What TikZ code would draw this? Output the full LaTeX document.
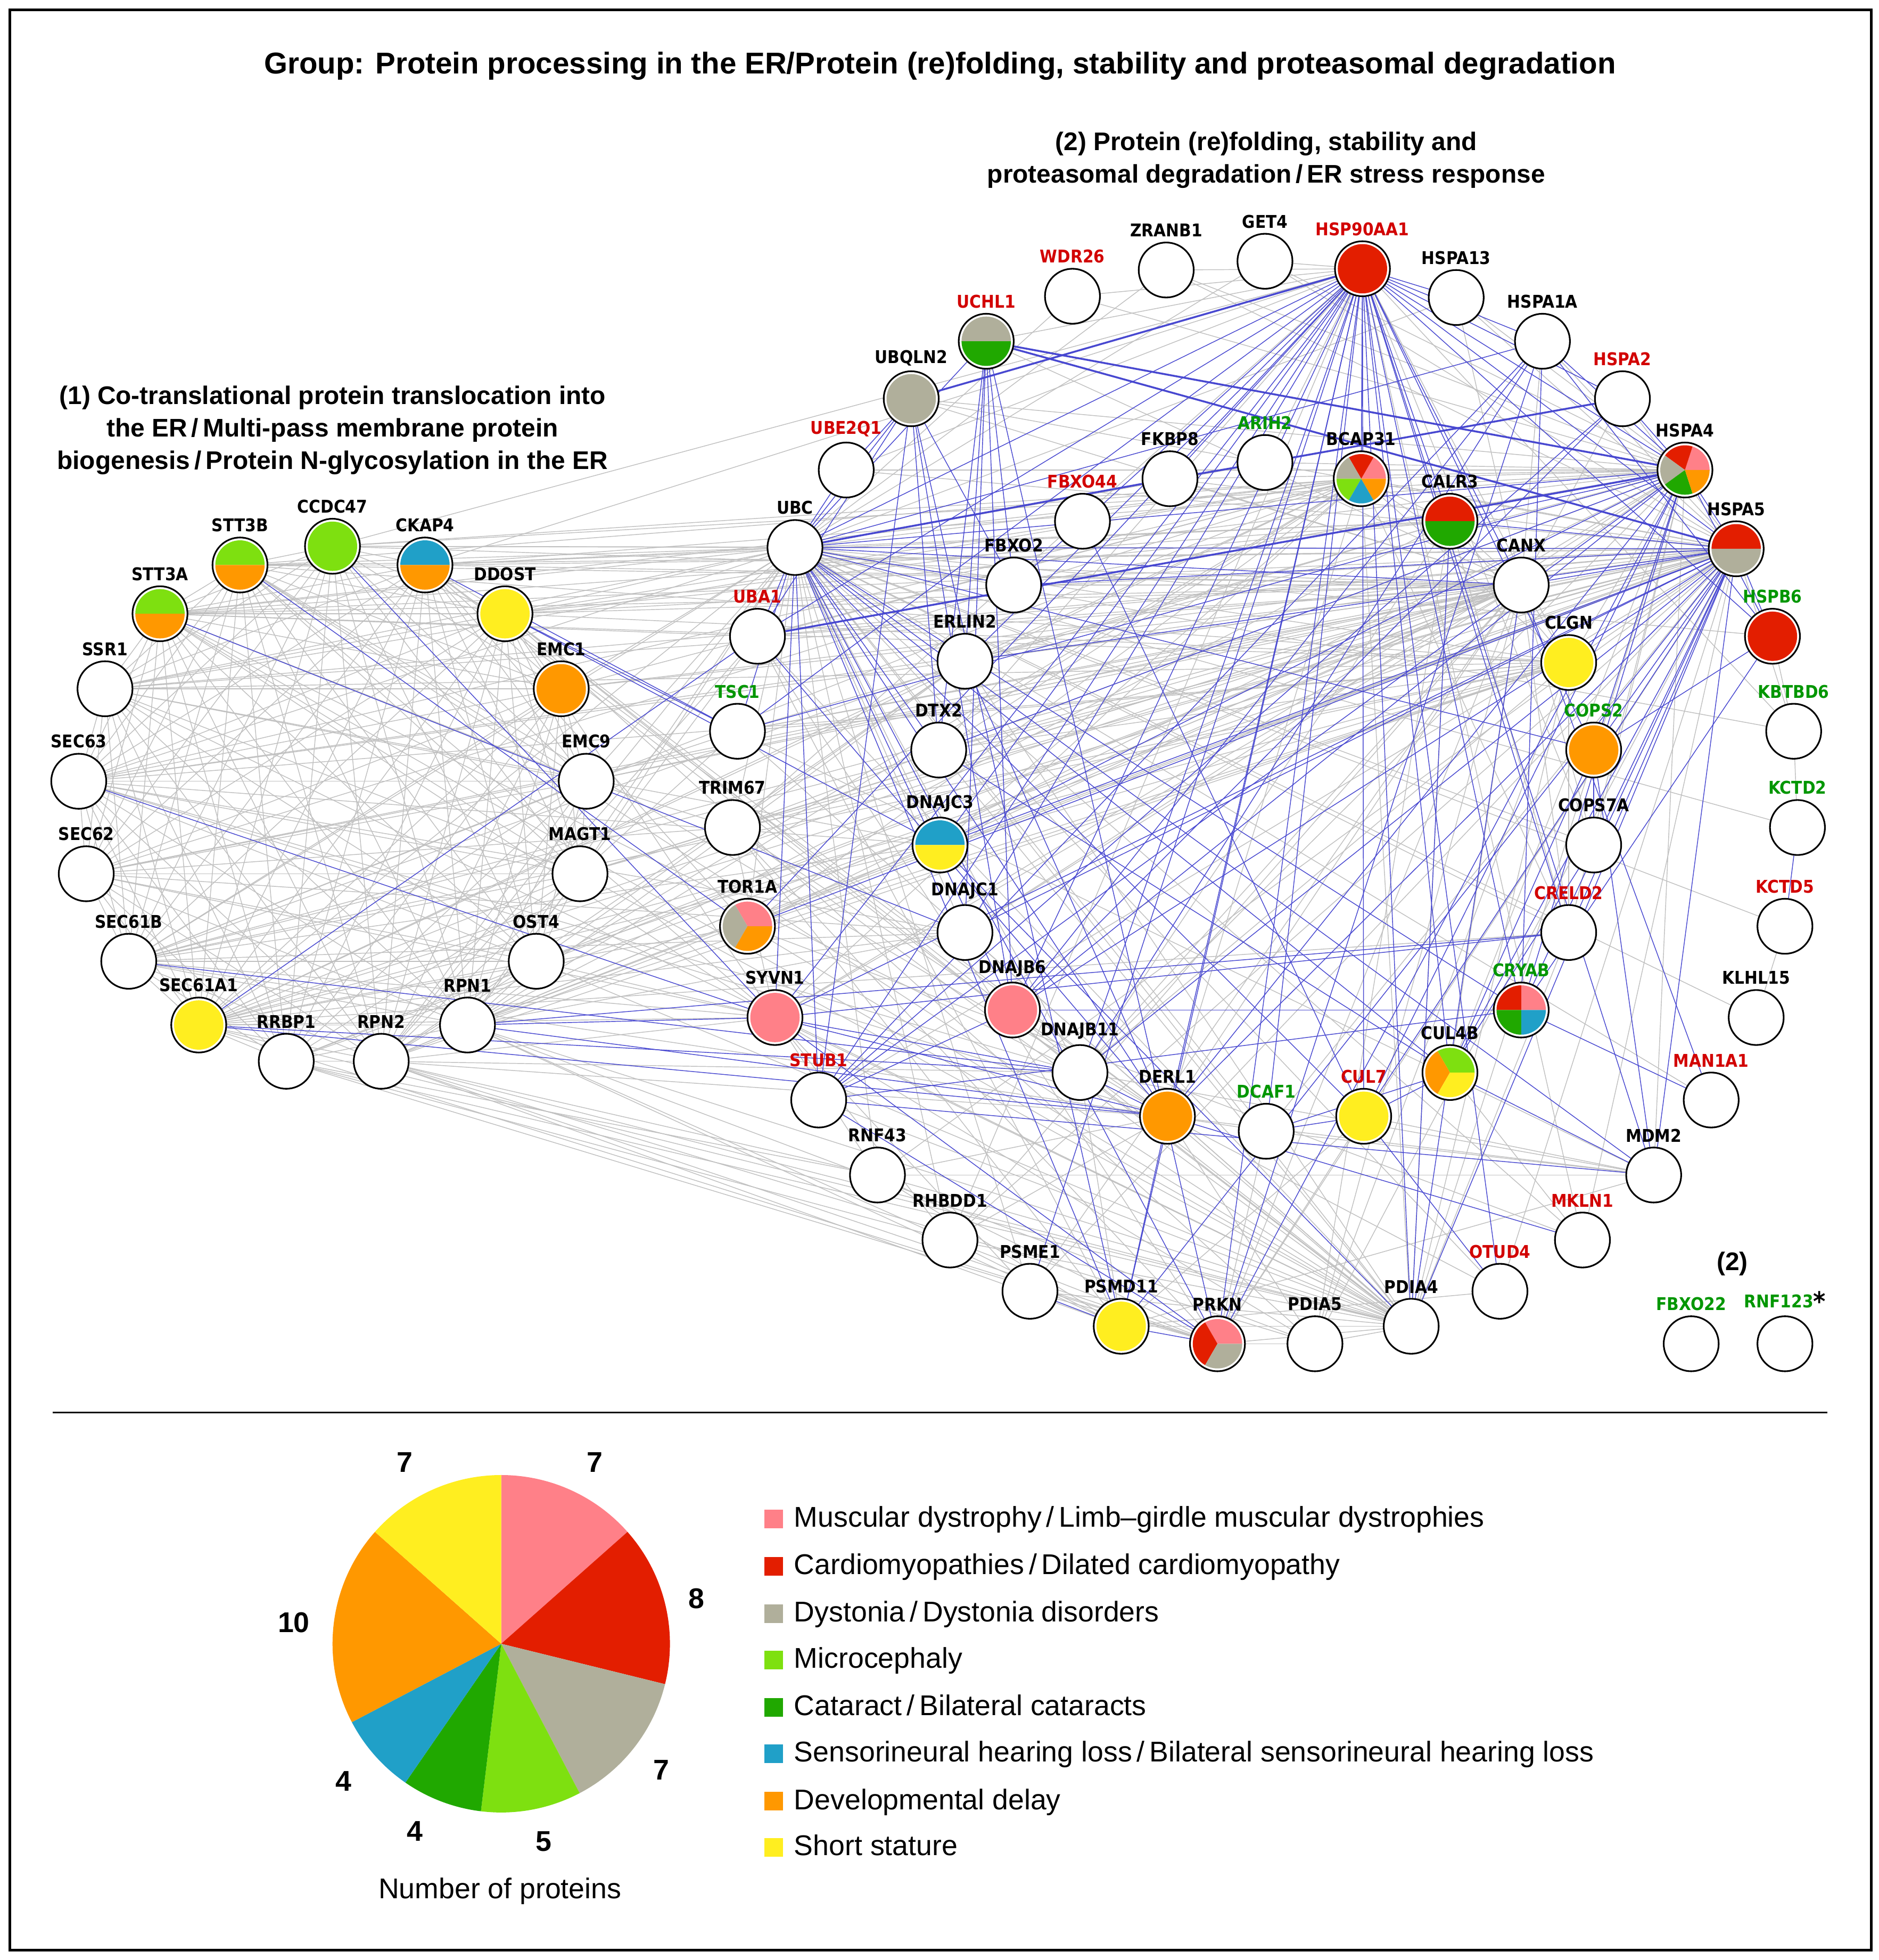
\documentclass[tikz,border=0pt]{standalone}
\usepackage{fontspec}
\setmainfont{Liberation Sans}
\newfontfamily\lblfont[FakeStretch=0.9]{DejaVu Sans}
\pgfdeclarelayer{edgelayer}
\pgfsetlayers{edgelayer,main}
\definecolor{cPink}{RGB}{255,128,136}
\definecolor{cRed}{RGB}{227,30,0}
\definecolor{cGray}{RGB}{176,175,155}
\definecolor{cLime}{RGB}{126,224,16}
\definecolor{cGreen}{RGB}{32,168,0}
\definecolor{cBlue}{RGB}{32,160,200}
\definecolor{cOrange}{RGB}{255,152,0}
\definecolor{cYellow}{RGB}{255,238,32}
\definecolor{lblRed}{RGB}{210,0,0}
\definecolor{lblGreen}{RGB}{0,150,0}
\definecolor{edgeGray}{RGB}{192,192,192}
\definecolor{edgeBlue}{RGB}{72,72,208}
\tikzset{
 prot/.style={circle, draw=black, line width=0.75pt, fill=white, minimum size=0.88cm, inner sep=0pt},
 plabel/.style={font=\lblfont\bfseries\fontsize{8}{9}\selectfont, inner sep=0pt},
 gedge/.style={draw=edgeGray, line width=0.35pt},
 bedge/.style={draw=edgeBlue, line width=0.35pt},
 bthick/.style={draw=edgeBlue, line width=0.85pt},
 legsq/.style={draw=none, minimum size=0.3cm, inner sep=0pt},
 legtxt/.style={anchor=base west, inner sep=0pt, font=\fontsize{13}{15}\selectfont},
 pienum/.style={font=\bfseries\fontsize{13}{15}\selectfont, inner sep=0pt},
 cluster/.style={font=\bfseries\fontsize{11.6}{14.8}\selectfont, align=center, inner sep=0pt},
}
\newcommand\prot[4]{\node[prot, label={[plabel, text=#4]above:#1}] (#1) at (#2,#3) {};}
\newcommand\piefill[2]{%
  \foreach \c [count=\k] in {#2} {\xdef\npie{\k}}%
  \foreach \c [count=\k from 0] in {#2} {%
    \pgfmathsetmacro\sa{\k*360/\npie}%
    \pgfmathsetmacro\ea{(\k+1)*360/\npie}%
    \fill[\c] (#1.center) -- ++(\sa:0.395cm) arc[start angle=\sa, end angle=\ea, radius=0.395cm] -- cycle;
  }%
}
\begin{document}
\begin{tikzpicture}[x=0.02cm, y=-0.02cm, label distance=0.07cm]
\useasboundingbox (0,0) rectangle (1503,1568);
\draw[line width=1.2pt] (8,8) rectangle (1497,1560);

\node[font=\bfseries\fontsize{13.7}{16}\selectfont, inner sep=0pt] (title) at (752,53) {Group: Protein processing in the ER/Protein (re)folding, stability and proteasomal degradation};
\node[cluster] (cl2) at (1013,128) {(2) Protein (re)folding, stability and\\proteasomal degradation\,/\,ER stress response};
\node[cluster] (cl1) at (266,344) {(1) Co-translational protein translocation into\\the ER\,/\,Multi-pass membrane protein\\biogenesis\,/\,Protein N-glycosylation in the ER};
\node[cluster] (cl2b) at (1386,1011) {(2)};

% right ring
\prot{WDR26}{858}{237}{lblRed}
\prot{ZRANB1}{933}{216}{black}
\prot{GET4}{1012}{209}{black}
\prot{HSP90AA1}{1090}{215}{lblRed}
\prot{HSPA13}{1165}{238}{black}
\prot{HSPA1A}{1234}{273}{black}
\prot{HSPA2}{1298}{319}{lblRed}
\prot{HSPA4}{1348}{376}{black}
\prot{HSPA5}{1389}{439}{black}
\prot{HSPB6}{1418}{509}{lblGreen}
\prot{KBTBD6}{1435}{585}{lblGreen}
\prot{KCTD2}{1438}{662}{lblGreen}
\prot{KCTD5}{1428}{741}{lblRed}
\prot{KLHL15}{1405}{814}{black}
\prot{MAN1A1}{1369}{880}{lblRed}
\prot{MDM2}{1323}{940}{black}
\prot{MKLN1}{1266}{992}{lblRed}
\prot{OTUD4}{1200}{1033}{lblRed}
\prot{PDIA4}{1129}{1061}{black}
\prot{PDIA5}{1052}{1075}{black}
\prot{PRKN}{974}{1075}{black}
\prot{PSMD11}{897}{1061}{black}
\prot{PSME1}{824}{1033}{black}
\prot{RHBDD1}{760}{992}{black}
\prot{RNF43}{702}{940}{black}
\prot{STUB1}{655}{880}{lblRed}
\prot{SYVN1}{620}{814}{black}
\prot{TOR1A}{598}{741}{black}
\prot{TRIM67}{586}{662}{black}
\prot{TSC1}{590}{585}{lblGreen}
\prot{UBA1}{606}{509}{lblRed}
\prot{UBC}{636}{438}{black}
\prot{UBE2Q1}{677}{376}{lblRed}
\prot{UBQLN2}{729}{319}{black}
\prot{UCHL1}{789}{273}{lblRed}
% inner
\prot{FKBP8}{936}{383}{black}
\prot{ARIH2}{1012}{370}{lblGreen}
\prot{BCAP31}{1089}{383}{black}
\prot{FBXO44}{866}{417}{lblRed}
\prot{CALR3}{1160}{417}{black}
\prot{FBXO2}{811}{468}{black}
\prot{CANX}{1217}{468}{black}
\prot{ERLIN2}{772}{529}{black}
\prot{CLGN}{1255}{530}{black}
\prot{DTX2}{751}{600}{black}
\prot{COPS2}{1275}{600}{lblGreen}
\prot{DNAJC3}{752}{676}{black}
\prot{COPS7A}{1275}{676}{black}
\prot{DNAJC1}{772}{746}{black}
\prot{CRELD2}{1255}{746}{lblRed}
\prot{DNAJB6}{810}{808}{black}
\prot{CRYAB}{1217}{808}{lblGreen}
\prot{DNAJB11}{864}{858}{black}
\prot{CUL4B}{1160}{858}{black}
\prot{DERL1}{934}{893}{black}
\prot{DCAF1}{1013}{905}{lblGreen}
\prot{CUL7}{1091}{893}{lblRed}
% left cluster
\prot{STT3B}{192}{452}{black}
\prot{CCDC47}{266}{437}{black}
\prot{CKAP4}{340}{452}{black}
\prot{STT3A}{128}{491}{black}
\prot{DDOST}{404}{491}{black}
\prot{SSR1}{84}{551}{black}
\prot{EMC1}{449}{551}{black}
\prot{SEC63}{63}{625}{black}
\prot{EMC9}{469}{625}{black}
\prot{SEC62}{69}{699}{black}
\prot{MAGT1}{464}{699}{black}
\prot{SEC61B}{103}{769}{black}
\prot{OST4}{429}{769}{black}
\prot{SEC61A1}{159}{820}{black}
\prot{RPN1}{374}{820}{black}
\prot{RRBP1}{229}{849}{black}
\prot{RPN2}{305}{849}{black}
% isolated
\prot{FBXO22}{1353}{1075}{lblGreen}
\node[prot, label={[plabel, text=lblGreen]above:RNF123\textcolor{black}{\raisebox{-0.3ex}{\fontsize{12}{12}\selectfont*}}}] (RNF123) at (1428,1075) {};

\begin{pgfonlayer}{edgelayer}
% left cluster mesh
\foreach \a [count=\i] in {STT3A,STT3B,CCDC47,CKAP4,DDOST,EMC1,EMC9,MAGT1,OST4,RPN1,RPN2,RRBP1,SEC61A1,SEC61B,SEC62,SEC63,SSR1}{
  \foreach \b [count=\j] in {STT3A,STT3B,CCDC47,CKAP4,DDOST,EMC1,EMC9,MAGT1,OST4,RPN1,RPN2,RRBP1,SEC61A1,SEC61B,SEC62,SEC63,SSR1}{
    \ifnum\j>\i \draw[gedge] (\a) -- (\b); \fi
  }
}
% left to right gray
\foreach \b in {STT3A,STT3B,CCDC47,CKAP4,DDOST,EMC1,EMC9,MAGT1,OST4,RPN1,RPN2,RRBP1,SEC61A1,SEC61B,SEC62,SEC63,SSR1}{
  \draw[gedge] (\b) -- (HSPA5); \draw[gedge] (\b) -- (CANX);}
\foreach \b in {STT3A,STT3B,SEC61A1,SEC61B,SEC63,SEC62,SSR1,DDOST,RPN1,RPN2,CCDC47,EMC1} \draw[gedge] (\b) -- (BCAP31);
\foreach \b in {RPN1,RPN2,RRBP1,SEC61A1,DDOST,STT3A,STT3B,OST4,MAGT1,SSR1,CKAP4} \draw[gedge] (\b) -- (PDIA4);
\foreach \b in {STT3A,STT3B,CCDC47,CKAP4,DDOST,SEC61A1,SEC61B,SEC63,RPN1,RPN2,SSR1,EMC1,EMC9,MAGT1} \draw[gedge] (\b) -- (UBC);
\foreach \b in {SEC61A1,SEC61B,SEC63,SSR1,DDOST,RPN1,RPN2,STT3A,STT3B} \draw[gedge] (\b) -- (CLGN);
\foreach \b in {SEC63,RPN2,DDOST,STT3A} \draw[gedge] (\b) -- (DNAJB11);
\foreach \b in {SEC61A1,SEC63,SEC61B,SSR1,RPN1} \draw[gedge] (\b) -- (DNAJC3);
\foreach \b in {SEC61A1,SEC61B,SEC63,SEC62,RPN1} \draw[gedge] (\b) -- (DNAJC1);
\foreach \b in {SEC61A1,SEC61B,RPN1,RPN2,OST4} \draw[gedge] (\b) -- (ERLIN2);
\foreach \b in {SEC61A1,SEC61B,SEC62,RPN2,DDOST,STT3A,STT3B,OST4} \draw[gedge] (\b) -- (SYVN1);
\foreach \b in {SEC61B,SEC63,RPN2,DDOST,STT3B,CKAP4} \draw[gedge] (\b) -- (DERL1);
\foreach \b in {DDOST,RPN1,STT3A,CKAP4} \draw[gedge] (\b) -- (CALR3);
\foreach \b in {CKAP4,CCDC47,DDOST} \draw[gedge] (\b) -- (HSPA4);
\foreach \b in {CKAP4,SEC61A1} \draw[gedge] (\b) -- (TOR1A);
\foreach \b in {RPN1,RPN2,STT3A} \draw[gedge] (\b) -- (UBA1);
\foreach \b in {RPN1,RPN2,DDOST} \draw[gedge] (\b) -- (PDIA5);
\foreach \b in {RPN2,RRBP1,SEC61A1} \draw[gedge] (\b) -- (PRKN);
\foreach \b in {RPN1,RPN2} \draw[gedge] (\b) -- (PSMD11);
\foreach \b in {RRBP1,RPN2} \draw[gedge] (\b) -- (RNF43);
\foreach \b in {RRBP1,RPN1} \draw[gedge] (\b) -- (RHBDD1);
\foreach \b in {MAGT1,EMC9,SEC62} \draw[gedge] (\b) -- (TRIM67);
\foreach \b in {EMC9,MAGT1} \draw[gedge] (\b) -- (TSC1);
\foreach \b in {CKAP4,CCDC47} \draw[gedge] (\b) -- (HSP90AA1);
\draw[gedge] (SEC61A1) -- (CRELD2);
% right cluster gray
\foreach \b in {CALR3,CLGN,PDIA5,DNAJB11,DNAJC3,DNAJC1,CRELD2,ERLIN2,SYVN1,DERL1,UBA1,TOR1A,TRIM67,TSC1,DTX2,FBXO2,FKBP8,BCAP31,HSPA4,HSPA2,HSPA1A,HSPA13,UCHL1,UBQLN2,RHBDD1,PSME1,COPS7A,CUL4B,PRKN} \draw[gedge] (CANX) -- (\b);
\foreach \b in {HSPA13,HSPA1A,HSPA2,CLGN,PDIA5,TRIM67,TSC1,DTX2,FKBP8,BCAP31,RHBDD1,PSME1,RNF43,STUB1,UBQLN2,UBE2Q1,PRKN,OTUD4,MKLN1,KBTBD6,GET4,ZRANB1,UBA1,DCAF1} \draw[gedge] (HSPA5) -- (\b);
\foreach \b in {FKBP8,ARIH2,BCAP31,CLGN,COPS7A,CRELD2,DNAJB11,DNAJC1,TOR1A,SYVN1,UBE2Q1,UBQLN2,GET4,ZRANB1,WDR26,HSPA13,CUL4B,PDIA4,MDM2,ERLIN2,FBXO2,TRIM67} \draw[gedge] (HSPA4) -- (\b);
\foreach \b in {GET4,ZRANB1,WDR26,ARIH2,DTX2,CLGN,COPS7A,KBTBD6,UCHL1,UBE2Q1,TRIM67,RHBDD1,MKLN1} \draw[gedge] (HSP90AA1) -- (\b);
\foreach \b in {CALR3,CLGN,CRELD2,DNAJB11,ERLIN2,PDIA5,PRKN,PSMD11,PSME1,RHBDD1,RNF43,STUB1,SYVN1,TOR1A,UBA1,UBC,DNAJC1,DERL1,BCAP31,TRIM67,TSC1,DTX2} \draw[gedge] (PDIA4) -- (\b);
\foreach \b in {WDR26,ZRANB1,GET4,HSPA13,CALR3,CLGN,COPS7A,CRELD2,DNAJB11,DNAJC1,DNAJC3,PSME1,RHBDD1,RNF43,MKLN1,KBTBD6,KCTD2,KCTD5,KLHL15,MAN1A1,HSPB6,TOR1A,ARIH2,HSPA2,BCAP31,OTUD4,DCAF1,ERLIN2,TRIM67} \draw[gedge] (UBC) -- (\b);
\foreach \b in {CALR3,CLGN,DERL1,SYVN1,ERLIN2,DNAJC3,TOR1A,UBA1,DTX2,CRELD2} \draw[gedge] (BCAP31) -- (\b);
\foreach \b in {CLGN,PDIA5,DNAJB11,CRELD2,ERLIN2,TSC1} \draw[gedge] (CALR3) -- (\b);
\foreach \b in {DNAJB11,PDIA5,TOR1A,CRELD2,DNAJC3,TSC1,TRIM67,DTX2} \draw[gedge] (CLGN) -- (\b);
\foreach \b in {PSME1,RHBDD1,RNF43,PDIA5,TRIM67,UBA1,DCAF1,CUL7} \draw[gedge] (PRKN) -- (\b);
\foreach \b in {RNF43,RHBDD1,UBA1,DNAJB11,CUL7,TRIM67} \draw[gedge] (PSMD11) -- (\b);
\foreach \b in {PDIA5,RHBDD1,RNF43,TRIM67,DCAF1} \draw[gedge] (DERL1) -- (\b);
\foreach \b in {PSME1,RHBDD1,RNF43,TRIM67,PDIA5} \draw[gedge] (SYVN1) -- (\b);
\foreach \b in {DNAJB11,DERL1,DCAF1,CUL7,PSMD11,RNF43,TSC1} \draw[gedge] (MDM2) -- (\b);
\foreach \a/\b in {KBTBD6/KCTD2,KCTD5/KLHL15,HSPB6/KBTBD6,MKLN1/CUL4B,MKLN1/TOR1A,OTUD4/PSMD11,OTUD4/DERL1} \draw[gedge] (\a) -- (\b);
% blue edges
\foreach \b in {UBC,FKBP8,BCAP31,CALR3,CANX,HSPA13,HSPA1A,HSPA2,HSPA4,HSPA5,HSPB6,COPS2,CRYAB,CUL4B,CUL7,DCAF1,DERL1,DNAJB11,DNAJB6,DNAJC1,DNAJC3,PRKN,PSMD11,PDIA4,STUB1,TSC1,MDM2,CRELD2,FBXO2,TOR1A,SYVN1,OTUD4,PSME1,UBA1,ERLIN2} \draw[bedge] (HSP90AA1) -- (\b);
\foreach \b in {HSPA5,HSPA2,HSPA1A,STUB1,DNAJB6,CRYAB,UBC,HSPB6,COPS2,CUL7,DERL1,DNAJC3,TSC1,DTX2,PRKN,CALR3} \draw[bedge] (HSPA4) -- (\b);
\foreach \b in {HSPB6,CALR3,CANX,DERL1,SYVN1,DNAJB11,DNAJC3,DNAJC1,CRELD2,COPS2,CRYAB,PDIA4,ERLIN2,UBC,TOR1A,CUL4B,COPS7A,MDM2,FBXO2,DNAJB6,CUL7,PSMD11} \draw[bedge] (HSPA5) -- (\b);
\foreach \b in {UBQLN2,UBE2Q1,UBA1,TSC1,FBXO2,DTX2,STUB1,SYVN1,PRKN,CUL7,DERL1,MDM2,DNAJB6,CRYAB,CANX,UCHL1,HSPA1A,CUL4B,COPS2,PSMD11} \draw[bedge] (UBC) -- (\b);
\foreach \a/\b in {HSPB6/COPS2,HSPB6/CRYAB,HSPB6/HSPA1A,
 UBQLN2/UBE2Q1,UBQLN2/STUB1,UBQLN2/DNAJB6,UBQLN2/PSMD11,UBQLN2/DTX2,UBQLN2/FBXO2,UBQLN2/UBA1,
 UCHL1/FBXO2,UCHL1/DTX2,UCHL1/ERLIN2,UCHL1/DNAJC1,UCHL1/PRKN,UCHL1/DNAJB6,
 HSPA1A/STUB1,HSPA1A/DNAJB6,HSPA1A/PRKN,HSPA1A/CRYAB,HSPA1A/DNAJB11,
 HSPA2/STUB1,HSPA2/DNAJB6,
 STUB1/PRKN,STUB1/DNAJB6,STUB1/CRYAB,STUB1/MDM2,
 CUL7/CUL4B,CUL7/DCAF1,CUL7/OTUD4,CUL7/FBXO44,
 CUL4B/DCAF1,CUL4B/COPS2,CUL4B/COPS7A,CUL4B/MDM2,CUL4B/DTX2,
 DERL1/SYVN1,DERL1/UBA1,DERL1/DNAJB11,DERL1/ERLIN2,DERL1/PSMD11,MKLN1/DERL1,
 SYVN1/DNAJB11,SYVN1/CRELD2,SYVN1/PRKN,
 COPS2/COPS7A,COPS2/MDM2,
 CANX/MAN1A1,CRYAB/MAN1A1,DNAJB6/CRYAB,PDIA4/DNAJC3,PDIA4/CALR3,PDIA4/CANX,
 KCTD2/KCTD5,PSME1/PSMD11,PRKN/PSMD11,
 STT3A/DNAJC1,STT3B/TOR1A,CCDC47/SYVN1,CKAP4/TSC1,DDOST/TSC1,DDOST/DNAJC3,SEC63/SYVN1,
 SEC61A1/UBA1,SEC61B/DNAJB11,SEC61A1/DERL1,SEC61A1/DNAJB11,RPN1/DERL1,RPN1/SYVN1,RPN1/CRELD2} \draw[bedge] (\a) -- (\b);
\foreach \a/\b in {UBQLN2/HSP90AA1,UCHL1/HSPA4,UCHL1/HSPA5,UBC/FKBP8,FKBP8/ARIH2,ARIH2/HSPA2,HSPA4/UBA1} \draw[bthick] (\a) -- (\b);
\end{pgfonlayer}

% pies
\piefill{HSP90AA1}{cRed}
\piefill{UCHL1}{cGray,cGreen}
\piefill{UBQLN2}{cGray}
\piefill{BCAP31}{cPink,cRed,cGray,cLime,cBlue,cOrange}
\piefill{CALR3}{cRed,cGreen}
\piefill{HSPA4}{cPink,cRed,cGray,cGreen,cOrange}
\piefill{HSPA5}{cRed,cGray}
\piefill{HSPB6}{cRed}
\piefill{CLGN}{cYellow}
\piefill{COPS2}{cOrange}
\piefill{DNAJC3}{cBlue,cYellow}
\piefill{TOR1A}{cPink,cGray,cOrange}
\piefill{SYVN1}{cPink}
\piefill{DNAJB6}{cPink}
\piefill{CRYAB}{cPink,cRed,cGreen,cBlue}
\piefill{CUL4B}{cLime,cOrange,cYellow}
\piefill{DERL1}{cOrange}
\piefill{CUL7}{cYellow}
\piefill{PSMD11}{cYellow}
\piefill{PRKN}{cPink,cRed,cGray}
\piefill{STT3B}{cLime,cOrange}
\piefill{CCDC47}{cLime}
\piefill{CKAP4}{cBlue,cOrange}
\piefill{STT3A}{cLime,cOrange}
\piefill{DDOST}{cYellow}
\piefill{EMC1}{cOrange}
\piefill{SEC61A1}{cYellow}

% separator
\draw[line width=0.6pt] (42,1130) -- (1462,1130);

% legend pie
\coordinate (legpie) at (401,1315);
\foreach \c/\s/\e in {cPink/90/41.54,cRed/41.54/-13.85,cGray/-13.85/-62.31,cLime/-62.31/-96.92,cGreen/-96.92/-124.62,cBlue/-124.62/-152.31,cOrange/-152.31/-221.54,cYellow/-221.54/-270}
  \fill[\c] (legpie) -- ++(\s:2.7cm) arc[start angle=\s, end angle=\e, radius=2.7cm] -- cycle;
\node[pienum] (n1) at (476,1170) {7};
\node[pienum] (n2) at (557,1279) {8};
\node[pienum] (n3) at (529,1416) {7};
\node[pienum] (n4) at (435,1473) {5};
\node[pienum] (n5) at (332,1465) {4};
\node[pienum] (n6) at (275,1425) {4};
\node[pienum] (n7) at (235,1298) {10};
\node[pienum] (n8) at (324,1170) {7};
\node[font=\fontsize{13}{15}\selectfont, inner sep=0pt] (npt) at (400,1513) {Number of proteins};

% legend entries
\foreach \c/\y/\t [count=\k] in {cPink/1215/{Muscular dystrophy\,/\,Limb--girdle muscular dystrophies},
 cRed/1253/{Cardiomyopathies\,/\,Dilated cardiomyopathy},
 cGray/1291/{Dystonia\,/\,Dystonia disorders},
 cLime/1328/{Microcephaly},
 cGreen/1366/{Cataract\,/\,Bilateral cataracts},
 cBlue/1403/{Sensorineural hearing loss\,/\,Bilateral sensorineural hearing loss},
 cOrange/1441/{Developmental delay},
 cYellow/1478/{Short stature}}{
  \node[legsq, fill=\c] (sq\k) at (619,\y) {};
  \node[legtxt] (lt\k) at (635,\y+6.5) {\t};
}
\end{tikzpicture}
\end{document}
